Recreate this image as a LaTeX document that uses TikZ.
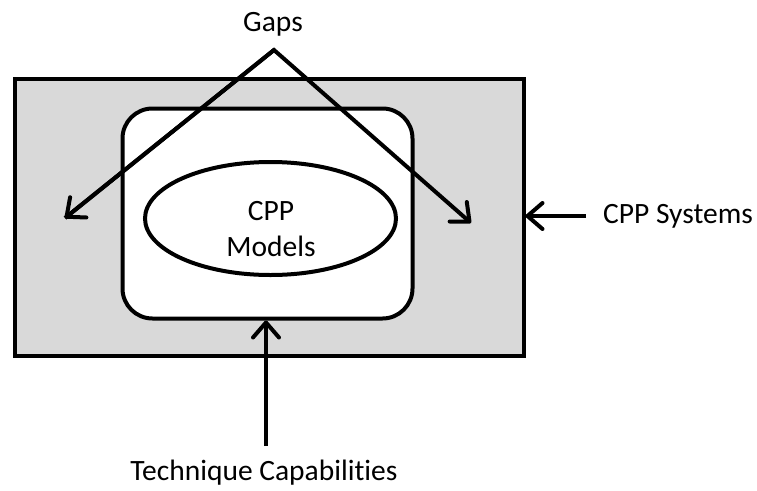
\documentclass[tikz,border=0pt]{standalone}
\usepackage{fontspec}
\setmainfont[Ligatures={NoCommon}]{Carlito}
\usetikzlibrary{arrows.meta,shapes.geometric}
\definecolor{boxgray}{HTML}{D9D9D9}
\tikzset{
  thick line/.style={line width=4pt},
  barb/.style={thick line,-{Straight Barb[length=15pt,width=26pt,line cap=round,line join=round]}},
  lbl/.style={font=\fontsize{29.5}{36}\selectfont, inner sep=0pt, align=center},
}
\begin{document}
\begin{tikzpicture}[x=1pt,y=-1pt]
\useasboundingbox (0,0) rectangle (757,490);
\node[thick line, draw, fill=boxgray, minimum width=509pt, minimum height=277pt, inner sep=0pt] (outer) at (269,217) {};
\node[thick line, draw, fill=white, rounded corners=30pt, minimum width=290pt, minimum height=210pt, inner sep=0pt] (inner) at (267.5,213.5) {};
\node[thick line, draw, fill=white, ellipse, minimum width=251pt, minimum height=113pt, inner sep=0pt] (models) at (270.5,218.5) {};
\node[lbl] (modelstxt) at (271,229) {CPP\\Models};
\node[lbl] (gaps) at (273,24) {Gaps};
\node[lbl] (systems) at (678,216) {CPP Systems};
\node[lbl] (tech) at (264,473) {Technique Capabilities};
\coordinate (apex) at (274,50);
\coordinate (gapL) at (65,218);
\coordinate (gapR) at (471,223);
\coordinate (sysTail) at (586,216);
\coordinate (techTail) at (266,446);
\draw[barb, line join=miter] (gapL) -- (apex) -- (gapR);
\draw[barb] (apex) -- (gapL);
\draw[barb] (sysTail) -- (outer.east |- sysTail);
\draw[barb] (techTail) -- (inner.south -| techTail);
\end{tikzpicture}
\end{document}
